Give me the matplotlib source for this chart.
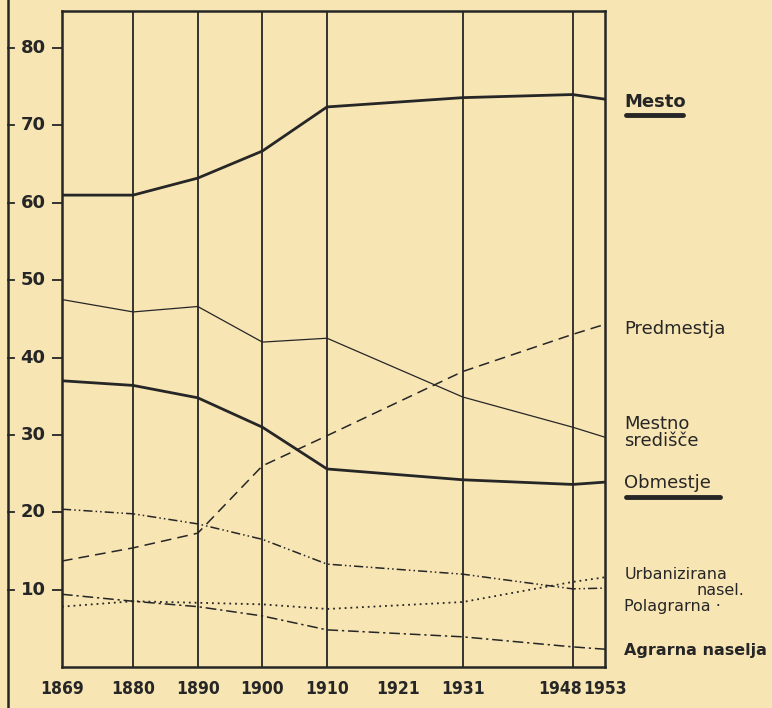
import matplotlib.pyplot as plt
from matplotlib.lines import Line2D
from matplotlib.transforms import blended_transform_factory

# census years and shares (%)
years = [1869, 1880, 1890, 1900, 1910, 1931, 1948, 1953]
mesto = [61.0, 61.0, 63.2, 66.7, 72.4, 73.6, 74.0, 73.4]
mestno_sredisce = [47.5, 45.9, 46.6, 42.0, 42.5, 34.9, 31.0, 29.7]
obmestje = [37.0, 36.4, 34.8, 31.0, 25.6, 24.2, 23.6, 23.9]
predmestja = [13.7, 15.4, 17.3, 26.0, 29.9, 38.2, 43.0, 44.3]
urbanizirana = [20.4, 19.8, 18.5, 16.5, 13.3, 12.0, 10.1, 10.2]
polagrarna = [7.8, 8.5, 8.3, 8.1, 7.5, 8.4, 11.0, 11.6]
agrarna = [9.4, 8.5, 7.8, 6.6, 4.8, 3.9, 2.6, 2.3]

year_labels = [1869, 1880, 1890, 1900, 1910, 1921, 1931, 1948, 1953]
grid_years = [1880, 1890, 1900, 1910, 1931, 1948]
y_ticks = [10, 20, 30, 40, 50, 60, 70, 80]

paper = "#f8e5b4"
ink = "#262626"
plt.rcParams['font.family'] = ['DejaVu Sans']

fig = plt.figure(figsize=(7.72, 7.08), dpi=100, facecolor=paper)
ax = fig.add_axes([62 / 772, 1 - 667 / 708, 543 / 772, 656 / 708], facecolor=paper)
ax.set_xlim(1869, 1953)
ax.set_ylim(0, 84.8)

# vertical grid lines at census years
for yr in grid_years:
    ax.axvline(yr, color=ink, lw=1.3, zorder=1)

ax.plot(years, mesto, color=ink, lw=2.0)
ax.plot(years, mestno_sredisce, color=ink, lw=0.9)
ax.plot(years, obmestje, color=ink, lw=2.0)
ax.plot(years, predmestja, color=ink, lw=1.1, linestyle=(0, (7, 4)))
ax.plot(years, urbanizirana, color=ink, lw=1.1, linestyle=(0, (6, 2, 1, 2, 1, 2)))
ax.plot(years, polagrarna, color=ink, lw=1.3, linestyle=(0, (1, 2.2)))
ax.plot(years, agrarna, color=ink, lw=1.1, linestyle=(0, (7, 2.5, 1.5, 2.5)))

for s in ax.spines.values():
    s.set_color(ink)
    s.set_linewidth(1.8)

ax.set_xticks([])
ax.set_yticks(y_ticks)
ax.set_yticklabels([])
ax.tick_params(axis='y', length=7, width=1.3, color=ink, direction='out')

# outer left rule with small ticks and labels
fig.add_artist(Line2D([8 / 772, 8 / 772], [0, 1], color=ink, lw=1.8))
tr = blended_transform_factory(fig.transFigure, ax.transData)
for v in y_ticks:
    ax.plot([8 / 772, 14 / 772], [v, v], color=ink, lw=1.3, transform=tr, clip_on=False)
    ax.text(33 / 772, v, str(v), transform=tr, ha='center', va='center',
            fontsize=13, fontweight='semibold', color=ink)

for yr in year_labels:
    dx = -13 if yr == 1948 else 0
    ax.annotate(str(yr), (yr, 0), xytext=(dx, -22), textcoords='offset pixels',
                ha='center', va='center', fontsize=12.5, fontweight='semibold',
                fontstretch='condensed', color=ink, annotation_clip=False)

# series labels on the right
lab = dict(transform=ax.transData, fontsize=13, color=ink, clip_on=False, va='center')
lx = 1956
ax.text(lx, 73.0, "Mesto", fontweight='semibold', **lab)
ax.plot([1956.2, 1965.0], [71.3, 71.3], color=ink, lw=3.5, clip_on=False, solid_capstyle='round')
ax.text(lx, 43.7, "Predmestja", **lab)
ax.text(lx, 30.3, "Mestno\nsredišče", linespacing=0.95, **lab)
ax.text(lx, 23.8, "Obmestje", **lab)
ax.plot([1956.2, 1970.8], [22.0, 22.0], color=ink, lw=3.5, clip_on=False, solid_capstyle='round')
small = dict(transform=ax.transData, fontsize=11.5, color=ink, clip_on=False, va='center')
ax.text(lx, 12.0, "Urbanizirana", **small)
ax.text(1967.2, 9.9, "nasel.", **small)
ax.text(lx, 7.8, "Polagrarna ·", **small)
ax.text(lx, 2.1, "Agrarna naselja", fontweight='bold', fontsize=11.5,
        transform=ax.transData, color=ink, clip_on=False, va='center')

fig.savefig("out.png", dpi=100, facecolor=paper)
